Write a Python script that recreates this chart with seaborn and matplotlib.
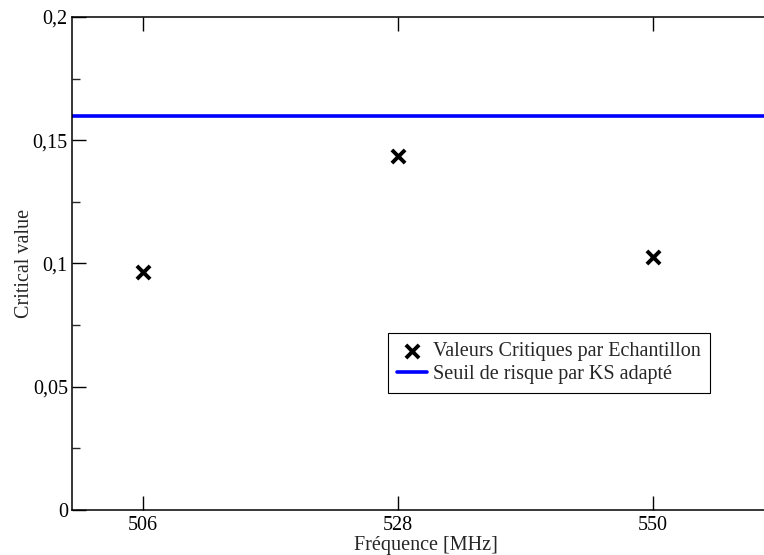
import matplotlib
matplotlib.use("Agg")
import matplotlib.pyplot as plt
import matplotlib.ticker as mticker
import seaborn as sns
import pandas as pd

# Data
frequencies = [506, 528, 550]
critical_values = [0.0965, 0.1437, 0.1025]
ks_threshold = 0.16

sns.set_theme(style="ticks")
plt.rcParams["font.family"] = ["Liberation Serif", "DejaVu Serif"]

df = pd.DataFrame({"freq": frequencies, "crit": critical_values})

fig = plt.figure(figsize=(7.64, 5.55), dpi=100)
ax = fig.add_axes([72 / 764, 45 / 555, 708 / 764, 493 / 555])

sns.scatterplot(data=df, x="freq", y="crit", marker="x", s=90, color="black",
                linewidth=2.8, ax=ax, label="Valeurs Critiques par Echantillon", zorder=3)
ax.axhline(ks_threshold, color="#0000ff", lw=2.6, label="Seuil de risque par KS adapté")

ax.set_xlim(499.9, 561)
ax.set_ylim(0, 0.2)
ax.set_xticks(frequencies)
ax.yaxis.set_major_locator(mticker.MultipleLocator(0.05))
ax.yaxis.set_minor_locator(mticker.MultipleLocator(0.025))
ax.yaxis.set_major_formatter(mticker.FuncFormatter(
    lambda v, p: "0" if v == 0 else ("%g" % round(v, 3)).replace(".", ",")))

fs = 14.5
ax.tick_params(axis="both", which="major", direction="in", length=10, width=1,
               top=True, right=False, labelsize=fs, colors="black", pad=3)
ax.tick_params(axis="x", which="major", pad=4)
ax.tick_params(axis="y", which="minor", direction="in", length=6, width=1, right=False)
for sp in ax.spines.values():
    sp.set_visible(True)
    sp.set_linewidth(1.1)
    sp.set_color("black")

ax.set_xlabel("Fréquence [MHz]", fontsize=fs, labelpad=1)
ax.set_ylabel("Critical value", fontsize=fs, labelpad=-1)

leg = ax.legend(loc="upper left", bbox_to_anchor=((388 - 72) / 708, (510 - 333) / 493),
                borderaxespad=0, fontsize=fs, frameon=True, fancybox=False, framealpha=1,
                edgecolor="black", handlelength=1.5, handletextpad=0.3,
                borderpad=0.45, labelspacing=0.2)
leg.get_frame().set_linewidth(0.8)

fig.savefig("out.png", dpi=100)
